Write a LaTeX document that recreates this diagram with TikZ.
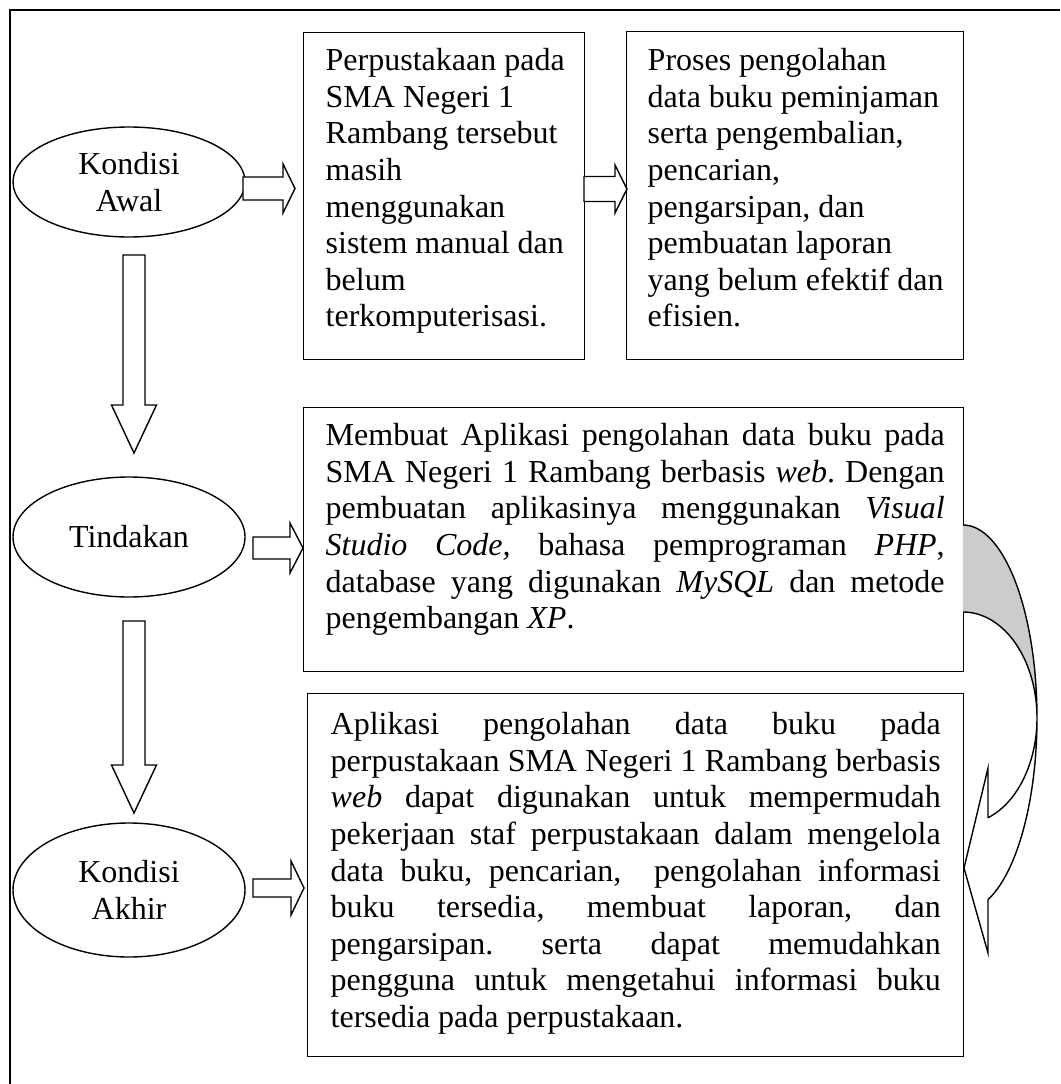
\documentclass[tikz,border=0pt]{standalone}
\usepackage{fontspec}
\setmainfont{Liberation Serif}
\usetikzlibrary{shapes.geometric}
\frenchspacing
% horizontal block arrow: x0, x1(tip), yc, shaft half, head half, head length
\newcommand\myHarrow[6]{%
  \draw[barrow] (#1,{#3-#4}) -- ({#2-#6},{#3-#4}) -- ({#2-#6},{#3-#5}) -- (#2,#3)
   -- ({#2-#6},{#3+#5}) -- ({#2-#6},{#3+#4}) -- (#1,{#3+#4}) -- cycle;}
% vertical block arrow: y0, y1(tip), xc, shaft half, head half, head length
\newcommand\myVarrow[6]{%
  \draw[barrow] ({#3-#4},#1) -- ({#3-#4},{#2-#6}) -- ({#3-#5},{#2-#6}) -- (#3,#2)
   -- ({#3+#5},{#2-#6}) -- ({#3+#4},{#2-#6}) -- ({#3+#4},#1) -- cycle;}
\begin{document}
\begin{tikzpicture}[x=1pt,y=-1pt,line width=1.4pt,
  boxst/.style={draw, rectangle, inner sep=0pt, anchor=north west,
    font=\fontsize{32pt}{36.6pt}\selectfont\frenchspacing},
  ellst/.style={draw, ellipse, inner sep=0pt, minimum width=232pt, align=center,
    font=\fontsize{32pt}{37pt}\selectfont},
  barrow/.style={draw, fill=white, line width=1.4pt, line join=miter}]
\useasboundingbox (0,0) rectangle (1060,1084);

% outer frame (partly visible)
\draw[line width=1.6pt] (10,1084) -- (10,10) -- (1060,10);

% ellipses
\node[ellst, minimum height=110pt] (e1) at (129,182) {Kondisi\\Awal};
\node[ellst, minimum height=120pt] (e2) at (129,537) {Tindakan};
\node[ellst, minimum height=134pt] (e3) at (129,890) {Kondisi\\Akhir};

% boxes
\node[boxst] (b1) at (303,32) {\parbox[t][327pt][t]{281pt}{\raggedright\leftskip=22pt
  \rule{0pt}{38pt}Perpustakaan pada\\SMA Negeri 1\\Rambang tersebut\\masih\\menggunakan\\sistem manual dan\\belum\\terkomputerisasi.}};
\node[boxst] (b2) at (626,31) {\parbox[t][328pt][t]{337pt}{\raggedright\leftskip=21pt
  \rule{0pt}{39pt}Proses pengolahan\\data buku peminjaman\\serta pengembalian,\\pencarian,\\pengarsipan, dan\\pembuatan laporan\\yang belum efektif dan\\efisien.}};
\node[boxst] (b3) at (303,407) {\parbox[t][264pt][t]{660pt}{\raggedright\leftskip=22pt
  \rule{0pt}{38pt}\makebox[619pt][s]{Membuat Aplikasi pengolahan data buku pada}\\
  \makebox[619pt][s]{SMA Negeri 1 Rambang berbasis \textit{web}. Dengan}\\
  \makebox[619pt][s]{pembuatan aplikasinya menggunakan \textit{Visual}}\\
  \makebox[619pt][s]{\textit{Studio Code,} bahasa pemprograman \textit{PHP},}\\
  \makebox[619pt][s]{database yang digunakan \textit{MySQL} dan metode}\\
  pengembangan \textit{XP}.}};
\node[boxst] (b4) at (307,693) {\parbox[t][363pt][t]{656pt}{\raggedright\leftskip=23pt
  \rule{0pt}{41pt}\makebox[610pt][s]{Aplikasi pengolahan data buku pada}\\
  \makebox[610pt][s]{perpustakaan SMA Negeri 1 Rambang berbasis}\\
  \makebox[610pt][s]{\textit{web} dapat digunakan untuk mempermudah}\\
  \makebox[610pt][s]{pekerjaan staf perpustakaan dalam mengelola}\\
  \makebox[610pt][s]{data buku, pencarian,\ \ pengolahan informasi}\\
  \makebox[610pt][s]{buku tersedia, membuat laporan, dan}\\
  \makebox[610pt][s]{pengarsipan. serta dapat memudahkan}\\
  \makebox[610pt][s]{pengguna untuk mengetahui informasi buku}\\
  tersedia pada perpustakaan.}};

% block arrows
\myHarrow{243}{295}{188.5}{11.5}{24.5}{12}
\myHarrow{584}{627}{189}{12.5}{24}{12}
\myHarrow{253}{303}{548}{11}{25}{13}
\myHarrow{253}{304}{888}{9}{27}{13}
\myVarrow{255}{453}{134}{11}{22.5}{48}
\myVarrow{621}{813}{134}{11}{22.5}{48}

% curved arrow from b3 to b4
\fill[gray!40] plot[domain=0:90,samples=40] ({963+74*sin(\x)},{718-193*cos(\x)})
  -- plot[domain=90:0,samples=40] ({963+74*sin(\x)},{718-106*cos(\x)}) -- cycle;
\draw[line join=miter] plot[domain=0:160.25,samples=80] ({963+74*sin(\x)},{718-193*cos(\x)})
  -- (988,953) -- (964,868) -- (988,768) -- (988,818)
  -- plot[domain=160.25:0,samples=80] ({963+74*sin(\x)},{718-106*cos(\x)});
\end{tikzpicture}
\end{document}
